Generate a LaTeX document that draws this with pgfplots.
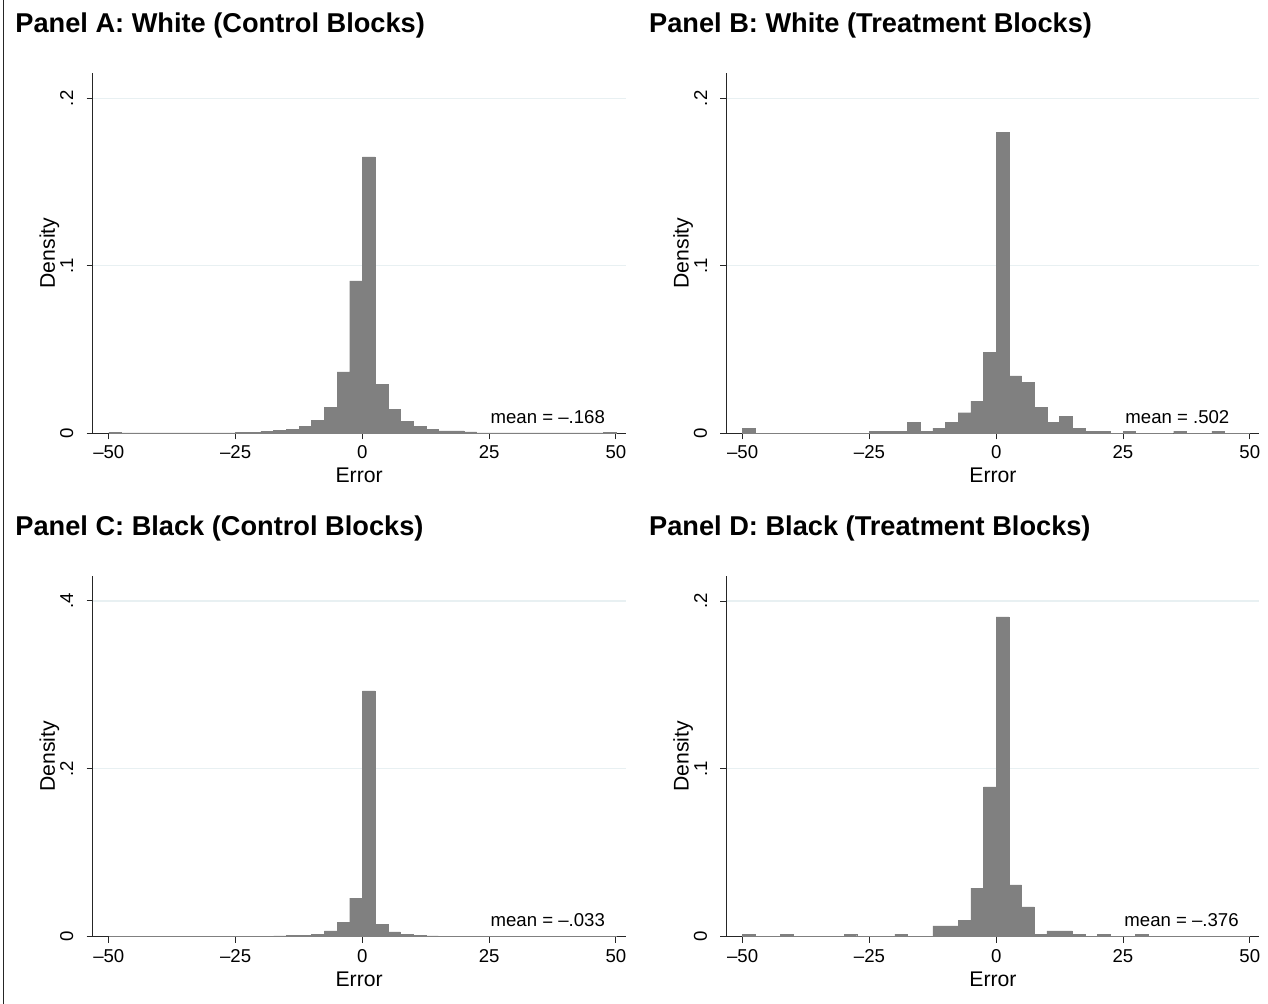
\documentclass[border=0pt]{standalone}
\usepackage{fontspec}
\setmainfont{Liberation Sans}
\usepackage{pgfplots}
\pgfplotsset{compat=1.18}
\definecolor{bargray}{RGB}{128,128,128}
\definecolor{gridc}{RGB}{232,240,242}
\pgfplotsset{
  histo/.style={
    scale only axis, width=266.5pt, height=180.35pt,
    xmin=-53.2, xmax=51.9, ymin=0,
    axis lines=left,
    axis line style={-, line width=0.5pt, black!85},
    tick align=outside,
    major tick length=3pt,
    tick style={line width=0.5pt, black!85},
    xtick={-50,-25,0,25,50},
    xticklabels={–50,–25,0,25,50},
    ymajorgrids, grid style={gridc, line width=0.6pt},
    ticklabel style={font=\fontsize{9.3}{11}\selectfont},
    xticklabel style={inner sep=0pt, anchor=north, yshift=-3pt},
    yticklabel style={rotate=90, anchor=south, inner sep=0pt, yshift=6.5pt},
    xlabel={Error}, ylabel={Density},
    label style={font=\fontsize{10.6}{12}\selectfont},
    xlabel style={at={(axis description cs:0.5,-0.1173)}, anchor=center, inner sep=0pt},
    ylabel style={at={(axis description cs:-0.0811,0.5)}, anchor=center, inner sep=0pt},
    clip=false,
  },
  bars/.style={ybar interval, fill=bargray, draw=bargray, line width=0.2pt},
}
\tikzset{
  meantxt/.style={anchor=base west, inner sep=0pt, font=\fontsize{9.3}{11}\selectfont},
  ptitle/.style={anchor=base west, inner sep=0pt, font=\bfseries\fontsize{13.6}{16}\selectfont},
}
\begin{document}
\begin{tikzpicture}
\useasboundingbox (0,0) rectangle (634pt,502pt);
\draw[line width=0.5pt, black!85] (1.6pt,0) -- (1.6pt,502pt);
\node[ptitle] at (7.5pt,485.5pt) {Panel A: White (Control Blocks)};
\node[ptitle] at (324.4pt,485.5pt) {Panel B: White (Treatment Blocks)};
\node[ptitle] at (7.5pt,234pt) {Panel C: Black (Control Blocks)};
\node[ptitle] at (324.4pt,234pt) {Panel D: Black (Treatment Blocks)};

% Panel A
\begin{axis}[histo, at={(46.3pt,285.25pt)}, anchor=south west, ymax=0.2152,
  ytick={0,0.1,0.2}, yticklabels={0,.1,.2}]
\addplot[bars] coordinates {(-50,0.0008) (-47.5,0.0003) (-45,0.0003) (-42.5,0.0003) (-40,0.0003) (-37.5,0.0003) (-35,0.0003) (-32.5,0.0003) (-30,0.0003) (-27.5,0.0003) (-25,0.0006) (-22.5,0.0006) (-20,0.0014) (-17.5,0.0020) (-15,0.0026) (-12.5,0.0044) (-10,0.0080) (-7.5,0.0157) (-5,0.0367) (-2.5,0.0910) (0,0.1650) (2.5,0.0295) (5,0.0145) (7.5,0.0074) (10,0.0044) (12.5,0.0024) (15,0.0016) (17.5,0.0016) (20,0.0010) (22.5,0.0004) (25,0.0003) (27.5,0.0003) (30,0.0003) (32.5,0.0003) (35,0.0003) (37.5,0.0003) (40,0.0003) (42.5,0.0003) (45,0.0003) (47.5,0.0008) (50,0)};
\node[meantxt] at (axis cs:25.2,0.0057) {mean = –.168};
\end{axis}

% Panel B
\begin{axis}[histo, at={(363.2pt,285.25pt)}, anchor=south west, ymax=0.2152,
  ytick={0,0.1,0.2}, yticklabels={0,.1,.2}]
\addplot[bars] coordinates {(-50,0.0032) (-47.5,0) (-45,0) (-42.5,0) (-40,0) (-37.5,0) (-35,0) (-32.5,0) (-30,0) (-27.5,0) (-25,0.0014) (-22.5,0.0014) (-20,0.0014) (-17.5,0.0068) (-15,0.0014) (-12.5,0.0032) (-10,0.0068) (-7.5,0.0124) (-5,0.0193) (-2.5,0.0486) (0,0.1797) (2.5,0.0343) (5,0.0307) (7.5,0.0157) (10,0.0068) (12.5,0.0104) (15,0.0032) (17.5,0.0014) (20,0.0014) (22.5,0) (25,0.0014) (27.5,0) (30,0) (32.5,0) (35,0.0014) (37.5,0) (40,0) (42.5,0.0014) (45,0) (47.5,0) (50,0)};
\node[meantxt] at (axis cs:25.4,0.0057) {mean = .502};
\end{axis}

% Panel C
\begin{axis}[histo, at={(46.3pt,33.65pt)}, anchor=south west, ymax=0.4298,
  ytick={0,0.2,0.4}, yticklabels={0,.2,.4}]
\addplot[bars] coordinates {(-50,0.0006) (-47.5,0.0006) (-45,0.0006) (-42.5,0.0006) (-40,0.0006) (-37.5,0.0006) (-35,0.0006) (-32.5,0.0006) (-30,0.0006) (-27.5,0.0006) (-25,0.0007) (-22.5,0.0008) (-20,0.0008) (-17.5,0.0010) (-15,0.0012) (-12.5,0.0020) (-10,0.0030) (-7.5,0.0068) (-5,0.0167) (-2.5,0.0461) (0,0.2930) (2.5,0.0151) (5,0.0056) (7.5,0.0030) (10,0.0020) (12.5,0.0009) (15,0.0008) (17.5,0.0008) (20,0.0007) (22.5,0.0006) (25,0.0006) (27.5,0.0006) (30,0.0005) (32.5,0.0005) (35,0.0005) (37.5,0.0005) (40,0) (42.5,0.0005) (45,0.0005) (47.5,0.0005) (50,0)};
\node[meantxt] at (axis cs:25.2,0.0119) {mean = –.033};
\end{axis}

% Panel D
\begin{axis}[histo, at={(363.2pt,33.65pt)}, anchor=south west, ymax=0.2149,
  ytick={0,0.1,0.2}, yticklabels={0,.1,.2}]
\addplot[bars] coordinates {(-50,0.0016) (-47.5,0) (-45,0) (-42.5,0.0016) (-40,0) (-37.5,0) (-35,0) (-32.5,0) (-30,0.0016) (-27.5,0) (-25,0) (-22.5,0) (-20,0.0016) (-17.5,0) (-15,0) (-12.5,0.0064) (-10,0.0064) (-7.5,0.0099) (-5,0.0290) (-2.5,0.0893) (0,0.1906) (2.5,0.0308) (5,0.0177) (7.5,0.0016) (10,0.0034) (12.5,0.0034) (15,0.0016) (17.5,0) (20,0.0016) (22.5,0) (25,0) (27.5,0.0016) (30,0) (32.5,0) (35,0) (37.5,0) (40,0) (42.5,0) (45,0) (47.5,0) (50,0)};
\node[meantxt] at (axis cs:25.2,0.0060) {mean = –.376};
\end{axis}
\end{tikzpicture}
\end{document}
